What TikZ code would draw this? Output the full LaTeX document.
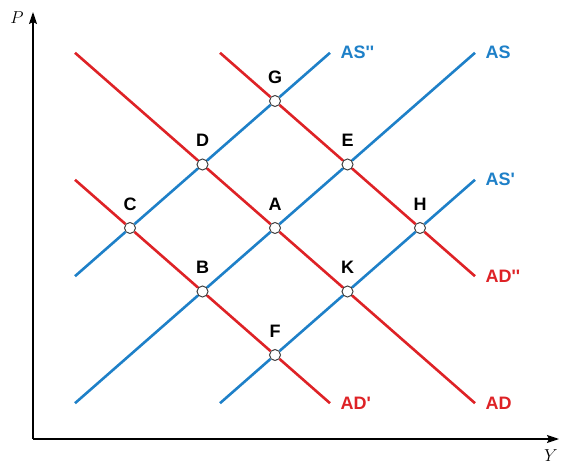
\documentclass[tikz,border=0pt]{standalone}
\usepackage{fontspec}
\newfontfamily\curvefont{Liberation Sans}
\usetikzlibrary{arrows.meta}
\definecolor{asblue}{RGB}{30,128,200}
\definecolor{adred}{RGB}{222,34,38}
\newcommand{\pr}{\textquotesingle}

\begin{document}
\begin{tikzpicture}[
  x=1pt, y=-1pt,
  every node/.style={font=\fontsize{18}{21}\selectfont\curvefont\bfseries},
  every label/.style={yshift=8pt},
  axis/.style={-{Stealth[length=12pt,width=8pt,inset=2pt]}, line width=1.4pt},
  supply/.style={asblue, line width=2.6pt},
  demand/.style={adred, line width=2.6pt},
  eq/.style={circle, draw=black!75, fill=white, line width=1pt,
    minimum size=11pt, inner sep=0pt, label distance=0pt}
]
\useasboundingbox (0,0) rectangle (562,465);
% axes
\coordinate (O) at (33,439);
\coordinate (ptop) at (33,12);
\coordinate (yend) at (559,439);
\draw[axis] (O) -- (ptop);
\draw[axis] (O) -- (yend);
\node[font=\fontsize{16}{18}\selectfont] (plab) at (17,18) {$P$};
\node[font=\fontsize{16}{18}\selectfont] (ylab) at (551,456) {$Y$};
% equilibria
\foreach \name/\px/\py in {A/275/228, B/202.5/291.5, C/130/228,
    D/202.5/164.5, E/347.5/164.5, F/275/355, G/275/101,
    H/420/228, K/347.5/291.5}
  \node[eq, label=above:\name] (\name) at (\px,\py) {};
% curve ends
\coordinate (as1) at (75,403.2);    \coordinate (as2) at (475,52.8);
\coordinate (ass1) at (75,276.2);   \coordinate (ass2) at (330,52.8);
\coordinate (asp1) at (220,403.2);  \coordinate (asp2) at (475,179.8);
\coordinate (ad1) at (75,52.8);     \coordinate (ad2) at (475,403.2);
\coordinate (adp1) at (75,179.8);   \coordinate (adp2) at (330,403.2);
\coordinate (adpp1) at (220,52.8);  \coordinate (adpp2) at (475,276.2);
% supply
\draw[supply] (as1) -- (B) -- (A) -- (E) -- (as2) node[right=6pt] {AS};
\draw[supply] (ass1) -- (C) -- (D) -- (G) -- (ass2) node[right=6pt] {AS\pr\pr};
\draw[supply] (asp1) -- (F) -- (K) -- (H) -- (asp2) node[right=6pt] {AS\pr};
% demand
\draw[demand] (ad1) -- (D) -- (A) -- (K) -- (ad2) node[right=6pt] {AD};
\draw[demand] (adp1) -- (C) -- (B) -- (F) -- (adp2) node[right=6pt] {AD\pr};
\draw[demand] (adpp1) -- (G) -- (E) -- (H) -- (adpp2) node[right=6pt] {AD\pr\pr};
\end{tikzpicture}
\end{document}
